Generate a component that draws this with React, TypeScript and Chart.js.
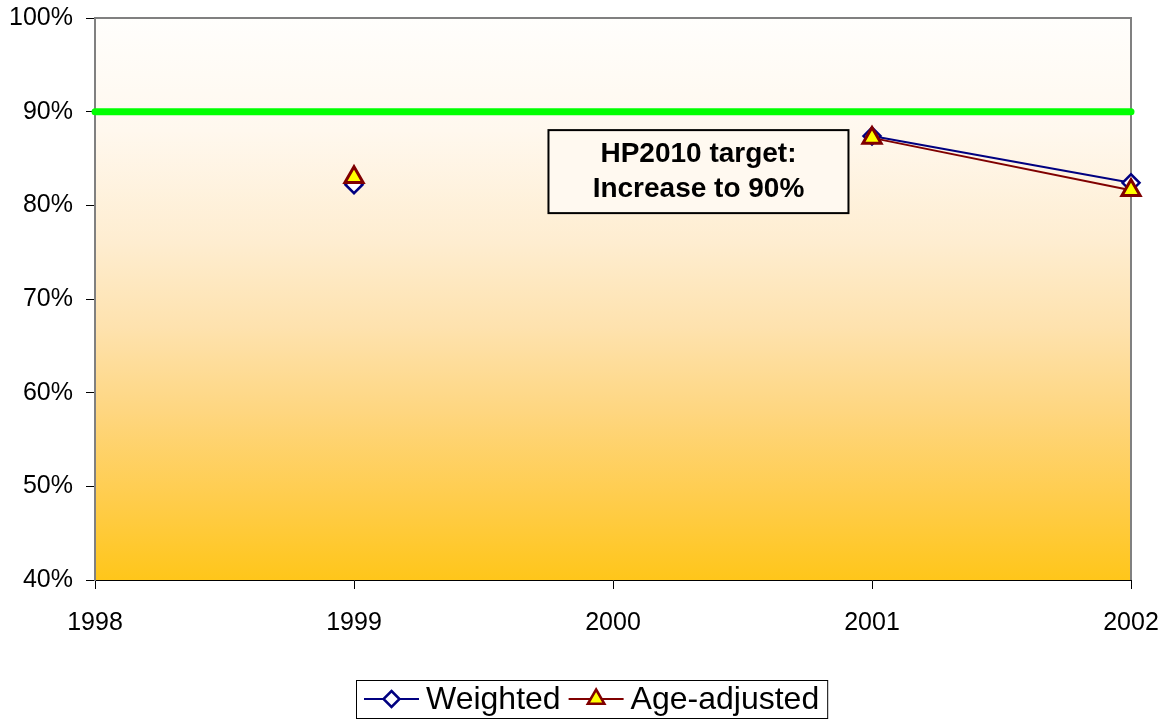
import React, { useEffect, useRef } from "react";
import { Chart, registerables } from "chart.js";

Chart.register(...registerables);

const years = [1998, 1999, 2000, 2001, 2002];
const weighted: (number | null)[] = [null, 82.2, null, 87.4, 82.4];
const ageAdjusted: (number | null)[] = [null, 83.0, null, 87.2, 81.6];
const targetYears = [1998, 2002];
const targetValues = [90, 90];
const seriesLabels = ["Weighted", "Age-adjusted"];
const annotationLines = ["HP2010 target:", "Increase to 90%"];
const yTicks = [40, 50, 60, 70, 80, 90, 100];

const FONT = "'Liberation Sans', Arial, sans-serif";

const framePlugin = {
  id: "frame",
  beforeDraw(chart: any) {
    const { ctx, chartArea: a } = chart;
    ctx.save();
    const g = ctx.createLinearGradient(0, a.top, 0, a.bottom);
    g.addColorStop(0, "#FFFEFC");
    g.addColorStop(0.2, "#FFF8EE");
    g.addColorStop(0.4, "#FEEDD0");
    g.addColorStop(0.55, "#FEE2AE");
    g.addColorStop(0.7, "#FED680");
    g.addColorStop(0.85, "#FFCD4E");
    g.addColorStop(1, "#FFC61A");
    ctx.fillStyle = g;
    ctx.fillRect(a.left, a.top, a.right - a.left, a.bottom - a.top);
    ctx.strokeStyle = "#808080";
    ctx.lineWidth = 2;
    ctx.beginPath();
    ctx.moveTo(a.left, a.top);
    ctx.lineTo(a.right, a.top);
    ctx.lineTo(a.right, a.bottom);
    ctx.stroke();
    ctx.restore();
  },
  afterDraw(chart: any) {
    const { ctx } = chart;
    const xs = chart.scales.x;
    const ys = chart.scales.y;
    // annotation box
    const cx = xs.getPixelForValue(2000.33);
    const cy = ys.getPixelForValue(83.6);
    const w = 300;
    const h = 83;
    ctx.save();
    ctx.fillStyle = "#FFF9F0";
    ctx.fillRect(cx - w / 2, cy - h / 2, w, h);
    ctx.strokeStyle = "#000";
    ctx.lineWidth = 2;
    ctx.strokeRect(cx - w / 2, cy - h / 2, w, h);
    ctx.fillStyle = "#000";
    ctx.font = `bold 28px ${FONT}`;
    ctx.textAlign = "center";
    ctx.textBaseline = "middle";
    ctx.fillText(annotationLines[0], cx, cy - 17);
    ctx.fillText(annotationLines[1], cx, cy + 18);
    ctx.restore();

    // legend
    ctx.save();
    ctx.font = `32px ${FONT}`;
    const pad = 8;
    const lineLen = 55;
    const gap = 7;
    const itemGap = 8;
    const widths = seriesLabels.map((l) => ctx.measureText(l).width);
    const total = pad * 2 + widths.reduce((s, v) => s + lineLen + gap + v, 0) + itemGap * (seriesLabels.length - 1);
    const left = 356;
    const top = 680;
    const bh = 38;
    ctx.fillStyle = "#fff";
    ctx.fillRect(left, top, total, bh);
    ctx.strokeStyle = "#000";
    ctx.lineWidth = 1;
    ctx.strokeRect(left + 0.5, top + 0.5, total, bh);
    let x = left + pad;
    const my = top + bh / 2;
    seriesLabels.forEach((label, i) => {
      const ds = chart.data.datasets[i];
      ctx.strokeStyle = ds.borderColor;
      ctx.lineWidth = 2;
      ctx.beginPath();
      ctx.moveTo(x, my);
      ctx.lineTo(x + lineLen, my);
      ctx.stroke();
      const mx = x + lineLen / 2;
      ctx.fillStyle = ds.pointBackgroundColor;
      ctx.strokeStyle = ds.pointBorderColor;
      ctx.lineWidth = 2.5;
      ctx.beginPath();
      if (i === 0) {
        const r = 8;
        ctx.moveTo(mx, my - r);
        ctx.lineTo(mx + r, my);
        ctx.lineTo(mx, my + r);
        ctx.lineTo(mx - r, my);
      } else {
        const r = 9.5;
        ctx.moveTo(mx, my - r);
        ctx.lineTo(mx + r * 0.87, my + r * 0.5);
        ctx.lineTo(mx - r * 0.87, my + r * 0.5);
      }
      ctx.closePath();
      ctx.fill();
      ctx.stroke();
      ctx.fillStyle = "#000";
      ctx.textAlign = "left";
      ctx.textBaseline = "middle";
      ctx.fillText(label, x + lineLen + gap, my + 1);
      x += lineLen + gap + widths[i] + itemGap;
    });
    ctx.restore();
  },
};

export default function App() {
  const ref = useRef<HTMLCanvasElement | null>(null);
  useEffect(() => {
    document.body.style.margin = "0";
    const canvas = ref.current!;
    const chart = new Chart(canvas, {
      type: "line",
      data: {
        datasets: [
          {
            label: seriesLabels[0],
            data: years.map((y, i) => ({ x: y, y: weighted[i] })),
            borderColor: "#000080",
            borderWidth: 2,
            pointStyle: "rectRot",
            pointRadius: 8.5,
            pointBackgroundColor: "#FFFFFF",
            pointBorderColor: "#000080",
            pointBorderWidth: 2.5,
            spanGaps: false,
            order: 1,
          },
          {
            label: seriesLabels[1],
            data: years.map((y, i) => ({ x: y, y: ageAdjusted[i] })),
            borderColor: "#800000",
            borderWidth: 2,
            pointStyle: "triangle",
            pointRadius: 10.5,
            pointBackgroundColor: "#FFFF00",
            pointBorderColor: "#800000",
            pointBorderWidth: 3,
            spanGaps: false,
            order: 0,
          },
          {
            label: "target",
            data: targetYears.map((y, i) => ({ x: y, y: targetValues[i] })),
            borderColor: "#00FF00",
            borderWidth: 7,
            borderCapStyle: "round",
            pointRadius: 0,
            order: 2,
          },
        ],
      } as any,
      options: {
        animation: false,
        responsive: false,
        clip: false as any,
        layout: { autoPadding: false, padding: { top: 18, right: 37, left: 0, bottom: 0 } },
        plugins: { legend: { display: false }, tooltip: { enabled: false } },
        scales: {
          x: {
            type: "linear",
            min: 1998,
            max: 2002,
            ticks: {
              stepSize: 1,
              callback: (v: any) => String(v),
              color: "#000",
              font: { family: FONT, size: 25 },
              padding: 19,
            },
            grid: { drawOnChartArea: false, drawTicks: true, tickLength: 9, color: "#000" },
            border: { color: "#000", width: 1 },
            afterFit: (s: any) => {
              s.height = 143;
              s.paddingLeft = 0;
              s.paddingRight = 0;
            },
          },
          y: {
            min: 40,
            max: 100,
            afterBuildTicks: (s: any) => {
              s.ticks = yTicks.map((v) => ({ value: v }));
            },
            ticks: {
              callback: (v: any) => v + "%",
              color: "#000",
              font: { family: FONT, size: 25 },
              padding: 13,
            },
            grid: { drawOnChartArea: false, drawTicks: true, tickLength: 9, color: "#000" },
            border: { color: "#808080", width: 2 },
            afterFit: (s: any) => {
              s.width = 95;
              s.paddingTop = 0;
              s.paddingBottom = 0;
            },
          },
        },
      } as any,
      plugins: [framePlugin],
    });
    return () => chart.destroy();
  }, []);
  return <canvas ref={ref} width={1168} height={723} style={{ display: "block" }} />;
}
